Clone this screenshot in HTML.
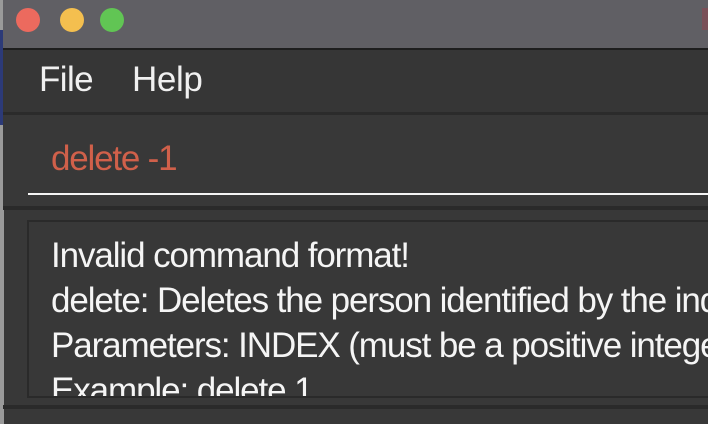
<!DOCTYPE html>
<html><head><style>
body{margin:0;width:708px;height:424px;overflow:hidden;background:#383838;font-family:"Liberation Sans",sans-serif;position:relative}
div{position:absolute}
.t{white-space:nowrap}
</style></head><body>
<div style="left:0;top:0;width:4px;height:424px;background:#9a9a9a"></div>
<div style="left:0;top:30px;width:4px;height:95px;background:#2c3a78"></div>
<div style="left:3px;top:0;width:705px;height:48px;background:#605f64"></div>
<div style="left:16px;top:8px;width:24px;height:24px;border-radius:50%;background:#ec6a5e"></div>
<div style="left:60px;top:8px;width:24px;height:24px;border-radius:50%;background:#f4bf4f"></div>
<div style="left:100px;top:8px;width:24px;height:24px;border-radius:50%;background:#61c554"></div>
<div style="left:702px;top:8px;width:6px;height:22px;background:#7a5058"></div>
<div style="left:3px;top:48px;width:705px;height:2px;background:#1e1e1e"></div>
<div style="left:3px;top:50px;width:705px;height:62px;background:#363636"></div>
<div class="t" style="left:39px;top:60px;font-size:35px;color:#f0f0f0;letter-spacing:-0.6px">File</div>
<div class="t" style="left:132px;top:60px;font-size:35px;color:#f0f0f0;letter-spacing:-0.4px">Help</div>
<div style="left:3px;top:112px;width:705px;height:3px;background:#2b2b2b"></div>
<div style="left:3px;top:115px;width:705px;height:91px;background:#383838"></div>
<div class="t" style="left:51px;top:139px;font-size:35px;color:#d0604a;letter-spacing:-1.2px">delete -1</div>
<div style="left:28px;top:193px;width:680px;height:2px;background:#f5f5f5"></div>
<div style="left:3px;top:206px;width:705px;height:4px;background:#2a2a2a"></div>
<div style="left:27px;top:220px;width:681px;height:174px;background:#383838;border:2px solid #2a2a2a;border-right:none;overflow:hidden">
<div class="t" style="left:22px;top:11px;font-size:35px;line-height:45px;color:#f5f5f5;letter-spacing:-1.1px">Invalid command format!<br>delete: Deletes the person identified by the index number<br>Parameters: INDEX (must be a positive integer)<br>Example: delete 1</div>
</div>
<div style="left:3px;top:405px;width:705px;height:4px;background:#2a2a2a"></div>
</body></html>
